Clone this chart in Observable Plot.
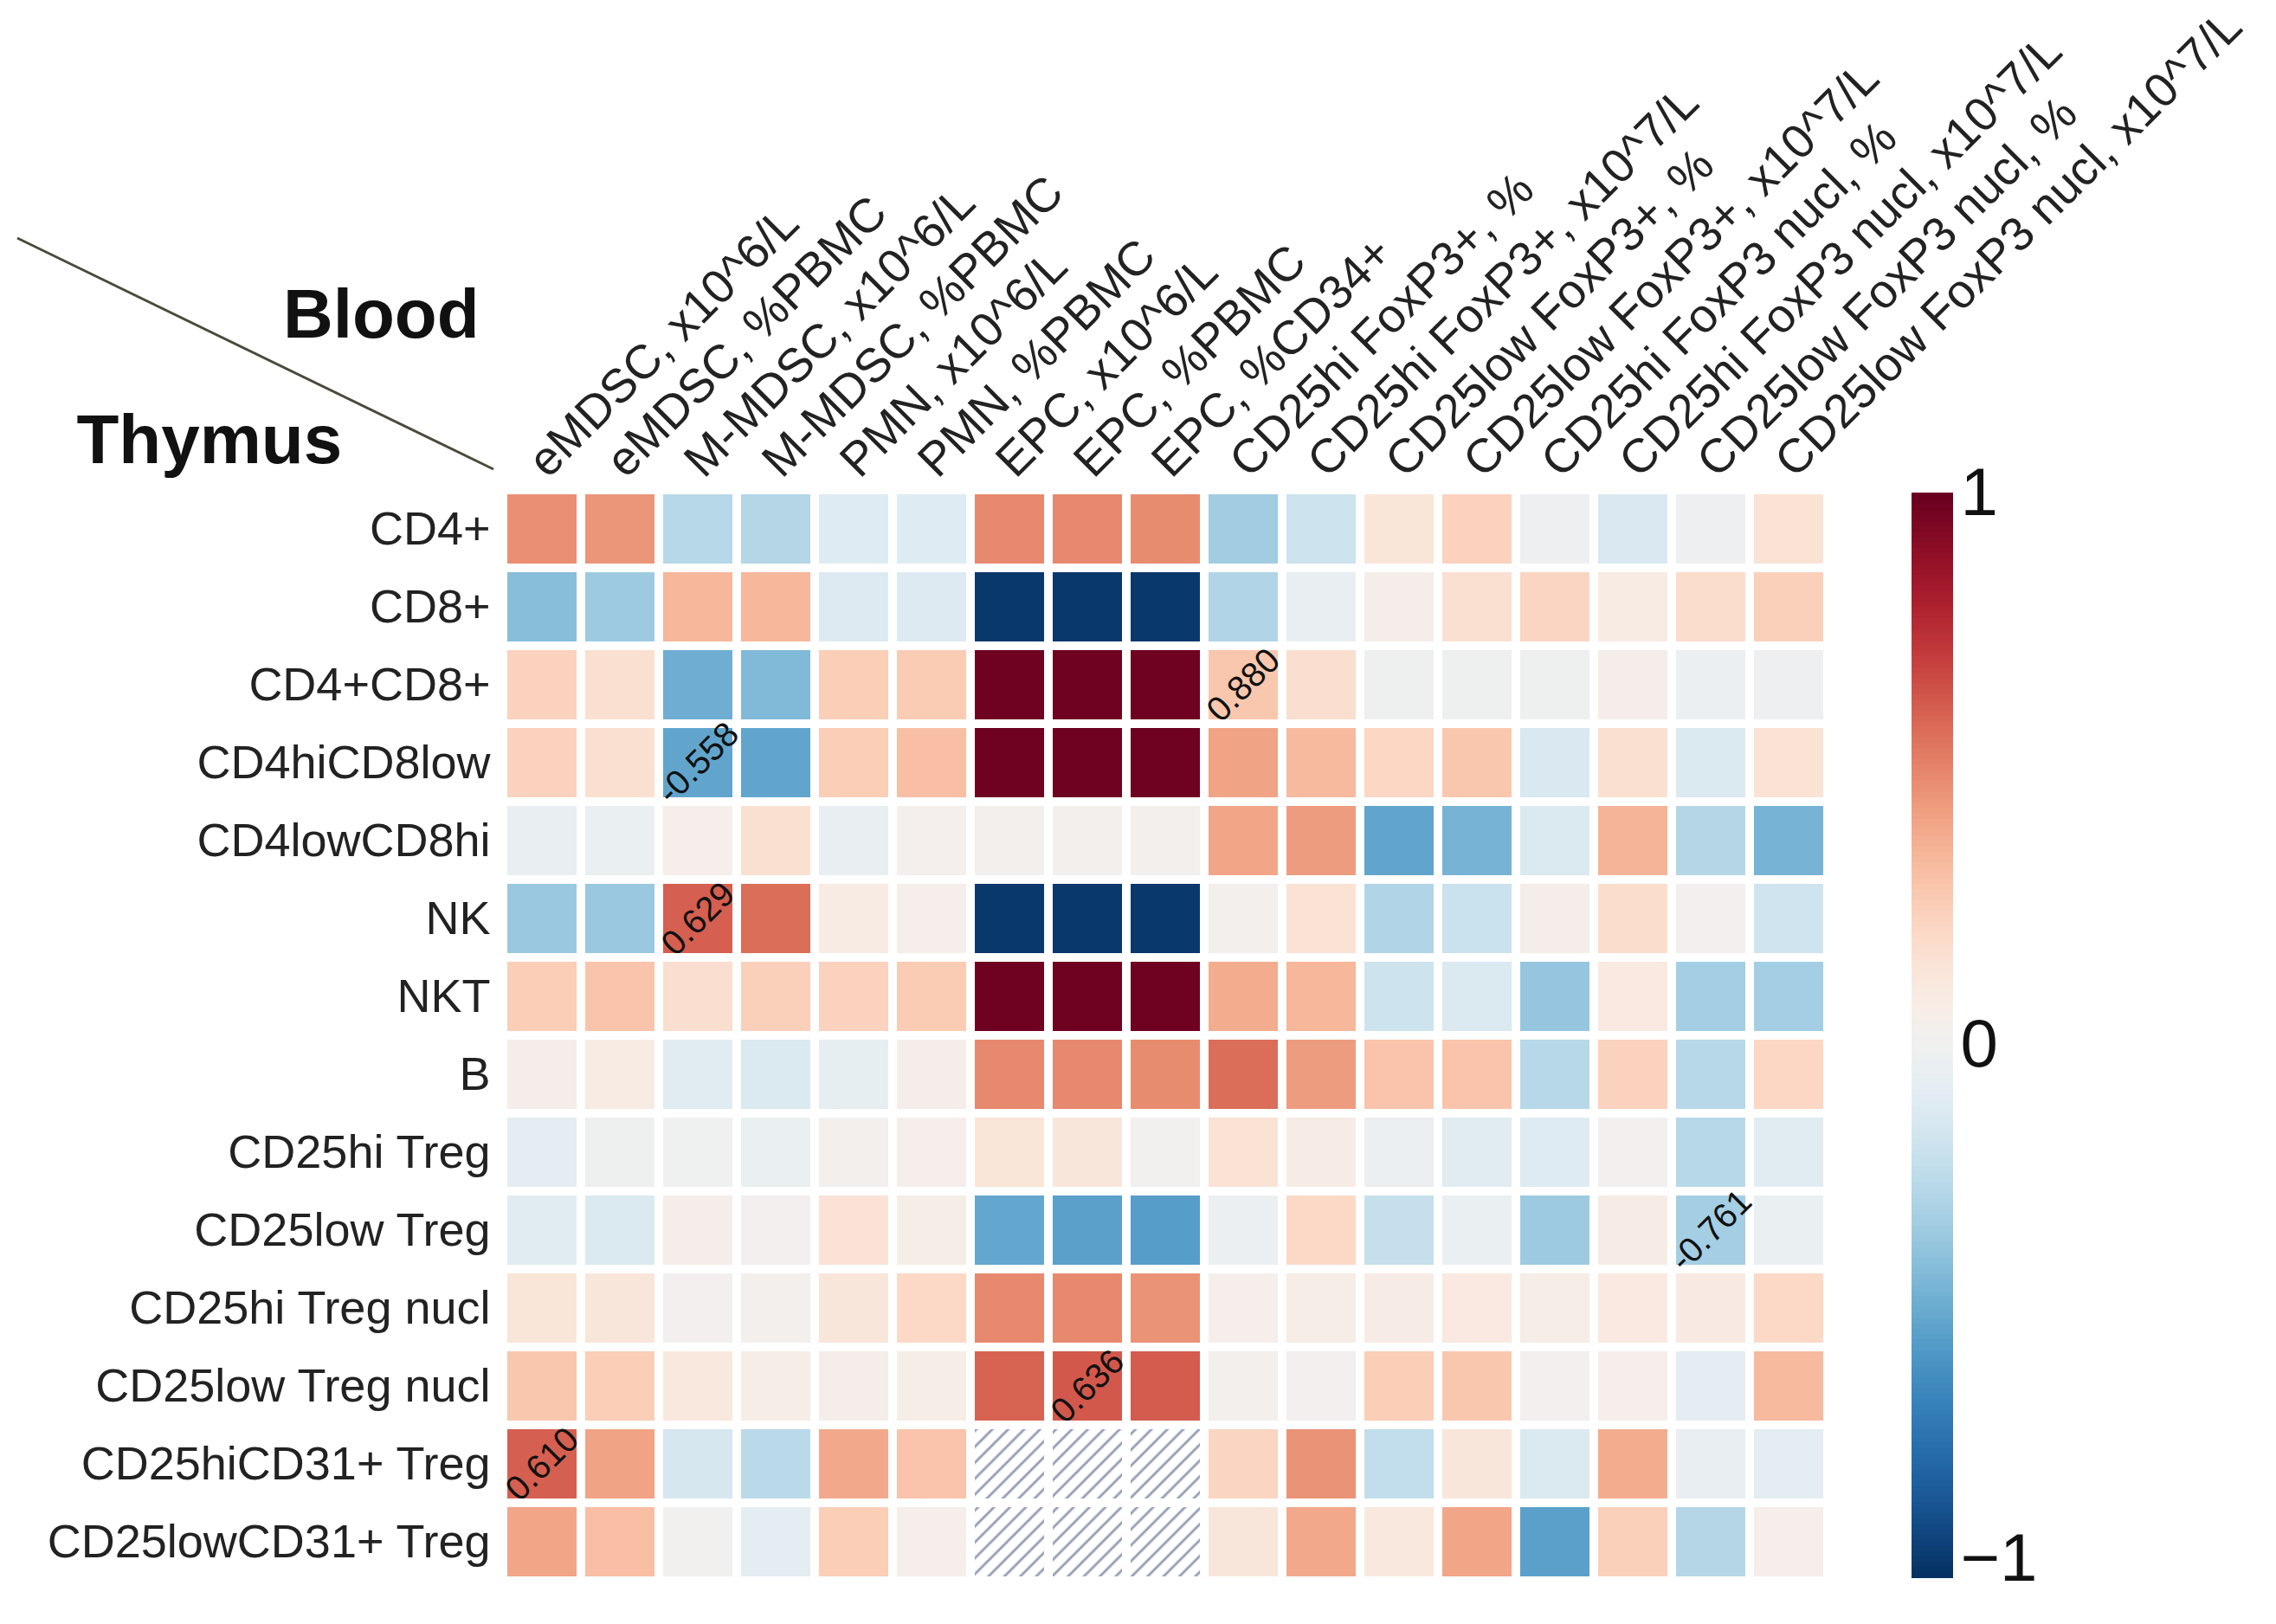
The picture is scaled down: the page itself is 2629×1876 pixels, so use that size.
<!DOCTYPE html>
<html><head><meta charset="utf-8">
<script src="https://cdn.jsdelivr.net/npm/d3@7"></script>
<script src="https://cdn.jsdelivr.net/npm/@observablehq/plot@0.6"></script>
<style>
html,body{margin:0;padding:0;background:#fff;}
#wrap{position:relative;width:2629px;height:1876px;overflow:hidden;background:#fff;}
#wrap svg{position:absolute;top:0;}
</style>
</head><body><div id="wrap"></div>
<script>
// ---- categories ----
const columns = [
  "eMDSC, x10^6/L", "eMDSC, %PBMC", "M-MDSC, x10^6/L", "M-MDSC, %PBMC",
  "PMN, x10^6/L", "PMN, %PBMC", "EPC, x10^6/L", "EPC, %PBMC", "EPC, %CD34+",
  "CD25hi FoxP3+, %", "CD25hi FoxP3+, x10^7/L", "CD25low FoxP3+, %", "CD25low FoxP3+, x10^7/L",
  "CD25hi FoxP3 nucl, %", "CD25hi FoxP3 nucl, x10^7/L", "CD25low FoxP3 nucl, %", "CD25low FoxP3 nucl, x10^7/L"
];
const rows = [
  "CD4+", "CD8+", "CD4+CD8+", "CD4hiCD8low", "CD4lowCD8hi", "NK", "NKT", "B",
  "CD25hi Treg", "CD25low Treg", "CD25hi Treg nucl", "CD25low Treg nucl",
  "CD25hiCD31+ Treg", "CD25lowCD31+ Treg"
];

// ---- correlation values (one array per thymus row, null = not available) ----
const vCD4       = [0.46, 0.44, -0.28, -0.29, -0.12, -0.12, 0.48, 0.48, 0.47, -0.35, -0.20, 0.12, 0.22, -0.04, -0.15, -0.04, 0.14];
const vCD8       = [-0.42, -0.36, 0.33, 0.33, -0.13, -0.13, -0.97, -0.97, -0.97, -0.30, -0.07, 0.04, 0.15, 0.21, 0.07, 0.17, 0.23];
const vCD4CD8    = [0.22, 0.15, -0.49, -0.44, 0.24, 0.25, 0.98, 0.98, 0.98, 0.27, 0.16, -0.03, -0.03, -0.03, 0.04, -0.05, -0.04];
const vCD4hi     = [0.22, 0.15, -0.53, -0.53, 0.24, 0.30, 0.98, 0.98, 0.98, 0.40, 0.32, 0.20, 0.27, -0.15, 0.15, -0.14, 0.14];
const vCD4low    = [-0.07, -0.06, 0.03, 0.15, -0.07, 0.02, 0.01, 0.01, 0.01, 0.39, 0.42, -0.53, -0.47, -0.14, 0.34, -0.29, -0.47];
const vNK        = [-0.37, -0.37, 0.60, 0.56, 0.07, 0.03, -0.97, -0.97, -0.97, 0.01, 0.14, -0.30, -0.21, 0.04, 0.17, 0.00, -0.19];
const vNKT       = [0.24, 0.28, 0.16, 0.23, 0.22, 0.25, 0.98, 0.98, 0.98, 0.37, 0.33, -0.20, -0.14, -0.38, 0.09, -0.34, -0.34];
const vB         = [0.04, 0.07, -0.11, -0.14, -0.08, 0.04, 0.48, 0.48, 0.47, 0.56, 0.42, 0.28, 0.28, -0.28, 0.22, -0.28, 0.20];
const vHiTreg    = [-0.09, -0.03, -0.02, -0.06, 0.01, 0.03, 0.12, 0.11, -0.01, 0.14, 0.06, -0.05, -0.11, -0.12, 0.00, -0.28, -0.11];
const vLowTreg   = [-0.11, -0.14, 0.04, 0.00, 0.13, 0.05, -0.52, -0.55, -0.56, -0.05, 0.19, -0.23, -0.06, -0.36, 0.06, -0.34, -0.06];
const vHiNucl    = [0.12, 0.11, 0.00, 0.01, 0.11, 0.19, 0.48, 0.48, 0.45, 0.03, 0.05, 0.06, 0.09, 0.05, 0.09, 0.08, 0.19];
const vLowNucl   = [0.27, 0.24, 0.10, 0.05, 0.04, 0.05, 0.59, 0.62, 0.61, 0.01, 0.00, 0.24, 0.27, 0.00, 0.03, -0.09, 0.32];
const vHiCD31    = [0.60, 0.40, -0.16, -0.27, 0.38, 0.28, null, null, null, 0.21, 0.45, -0.24, 0.11, -0.14, 0.37, -0.07, -0.10];
const vLowCD31   = [0.39, 0.30, -0.01, -0.10, 0.24, 0.03, null, null, null, 0.11, 0.38, 0.10, 0.39, -0.55, 0.23, -0.29, 0.03];
const valueRows = [vCD4, vCD8, vCD4CD8, vCD4hi, vCD4low, vNK, vNKT, vB, vHiTreg, vLowTreg, vHiNucl, vLowNucl, vHiCD31, vLowCD31];

// ---- annotated cells ----
const annotRows   = ["CD4+CD8+", "CD4hiCD8low", "NK", "CD25low Treg", "CD25low Treg nucl", "CD25hiCD31+ Treg"];
const annotCols   = ["CD25hi FoxP3+, %", "M-MDSC, x10^6/L", "M-MDSC, x10^6/L", "CD25low FoxP3 nucl, %", "EPC, %PBMC", "eMDSC, x10^6/L"];
const annotLabels = ["0.880", "-0.558", "0.629", "-0.761", "0.636", "0.610"];

// ---- colour-bar ticks ----
const legendTicks = [-1, 0, 1];

// ---- build tables ----
const table = [];
rows.forEach((r, i) => columns.forEach((c, j) => table.push({row: r, col: c, value: valueRows[i][j]})));
const present = table.filter(d => d.value != null);
const missing = table.filter(d => d.value == null);
const annots = annotRows.map((r, i) => ({row: r, col: annotCols[i], label: annotLabels[i]}));

const colorScale = {type: "linear", scheme: "rdbu", domain: [-1, 1], reverse: true};
const fontFamily = "'Liberation Sans', Arial, Helvetica, sans-serif";

const main = Plot.plot({
  width: 2629, height: 1876,
  marginLeft: 576, marginRight: 514, marginTop: 564, marginBottom: 49,
  x: {domain: columns, axis: null, padding: 0},
  y: {domain: rows, axis: null, padding: 0},
  color: colorScale,
  style: {fontFamily, background: "transparent", overflow: "visible"},
  marks: [
    Plot.cell(present, {x: "col", y: "row", fill: "value", inset: 5}),
    Plot.cell(missing, {x: "col", y: "row", fill: "url(#hatch)", inset: 5}),
    Plot.text(annots, {x: "col", y: "row", text: "label", rotate: -45, fontSize: 40, fill: "#111"}),
    Plot.text(columns, {x: d => d, text: d => d, frameAnchor: "top", lineAnchor: "middle",
      dx: -6, dy: -23, rotate: -45, textAnchor: "start", fontSize: 55, fill: "#222"}),
    Plot.text(rows, {y: d => d, text: d => d, frameAnchor: "left", lineAnchor: "middle",
      dx: -10, textAnchor: "end", fontSize: 54, fill: "#222"}),
    Plot.text(["Blood"], {frameAnchor: "top-left", lineAnchor: "middle", dx: -23, dy: -200,
      textAnchor: "end", fontSize: 80, fontWeight: "bold", fill: "#111"}),
    Plot.text(["Thymus"], {frameAnchor: "top-left", lineAnchor: "middle", dx: -488, dy: -55,
      textAnchor: "start", fontSize: 80, fontWeight: "bold", fill: "#111"})
  ]
});

// hatch pattern for missing cells and the corner divider line
const svgSel = d3.select(main);
const defs = svgSel.insert("defs", ":first-child");
const pat = defs.append("pattern").attr("id", "hatch").attr("patternUnits", "userSpaceOnUse")
  .attr("width", 13).attr("height", 13).attr("patternTransform", "rotate(45)");
pat.append("rect").attr("width", 13).attr("height", 13).attr("fill", "#fff");
pat.append("line").attr("x1", 2).attr("y1", 0).attr("x2", 2).attr("y2", 13)
  .attr("stroke", "#949db2").attr("stroke-width", 2.8);
svgSel.append("line").attr("x1", 20).attr("y1", 275).attr("x2", 570).attr("y2", 542)
  .attr("stroke", "#4a4a3c").attr("stroke-width", 3);

// colour bar
const ramp = d3.range(200).map(i => -1 + i / 100);
const labelStyle = {anchor: "right", tickSize: 0, tickPadding: 8, fontSize: 78, fill: "#111",
  tickFormat: d => d < 0 ? "\u22121" : String(d)};
const bar = Plot.plot({
  width: 449, height: 1876,
  marginLeft: 28, marginRight: 373, marginTop: 570, marginBottom: 53,
  x: {domain: [0, 1], axis: null},
  y: {domain: [-1, 1], axis: null},
  color: colorScale,
  style: {fontFamily, background: "transparent", overflow: "visible"},
  marks: [
    Plot.rect(ramp, {x1: 0, x2: 1, y1: d => d, y2: d => d + 0.0115, fill: d => d + 0.005}),
    Plot.axisY({...labelStyle, ticks: legendTicks.filter(t => t > 0)}),
    Plot.axisY({...labelStyle, ticks: legendTicks.filter(t => t === 0), dy: 10}),
    Plot.axisY({...labelStyle, ticks: legendTicks.filter(t => t < 0), dy: -22})
  ]
});
bar.style.left = "2180px";

const wrap = document.getElementById("wrap");
main.style.left = "0px";
wrap.appendChild(main);
wrap.appendChild(bar);
</script></body></html>
